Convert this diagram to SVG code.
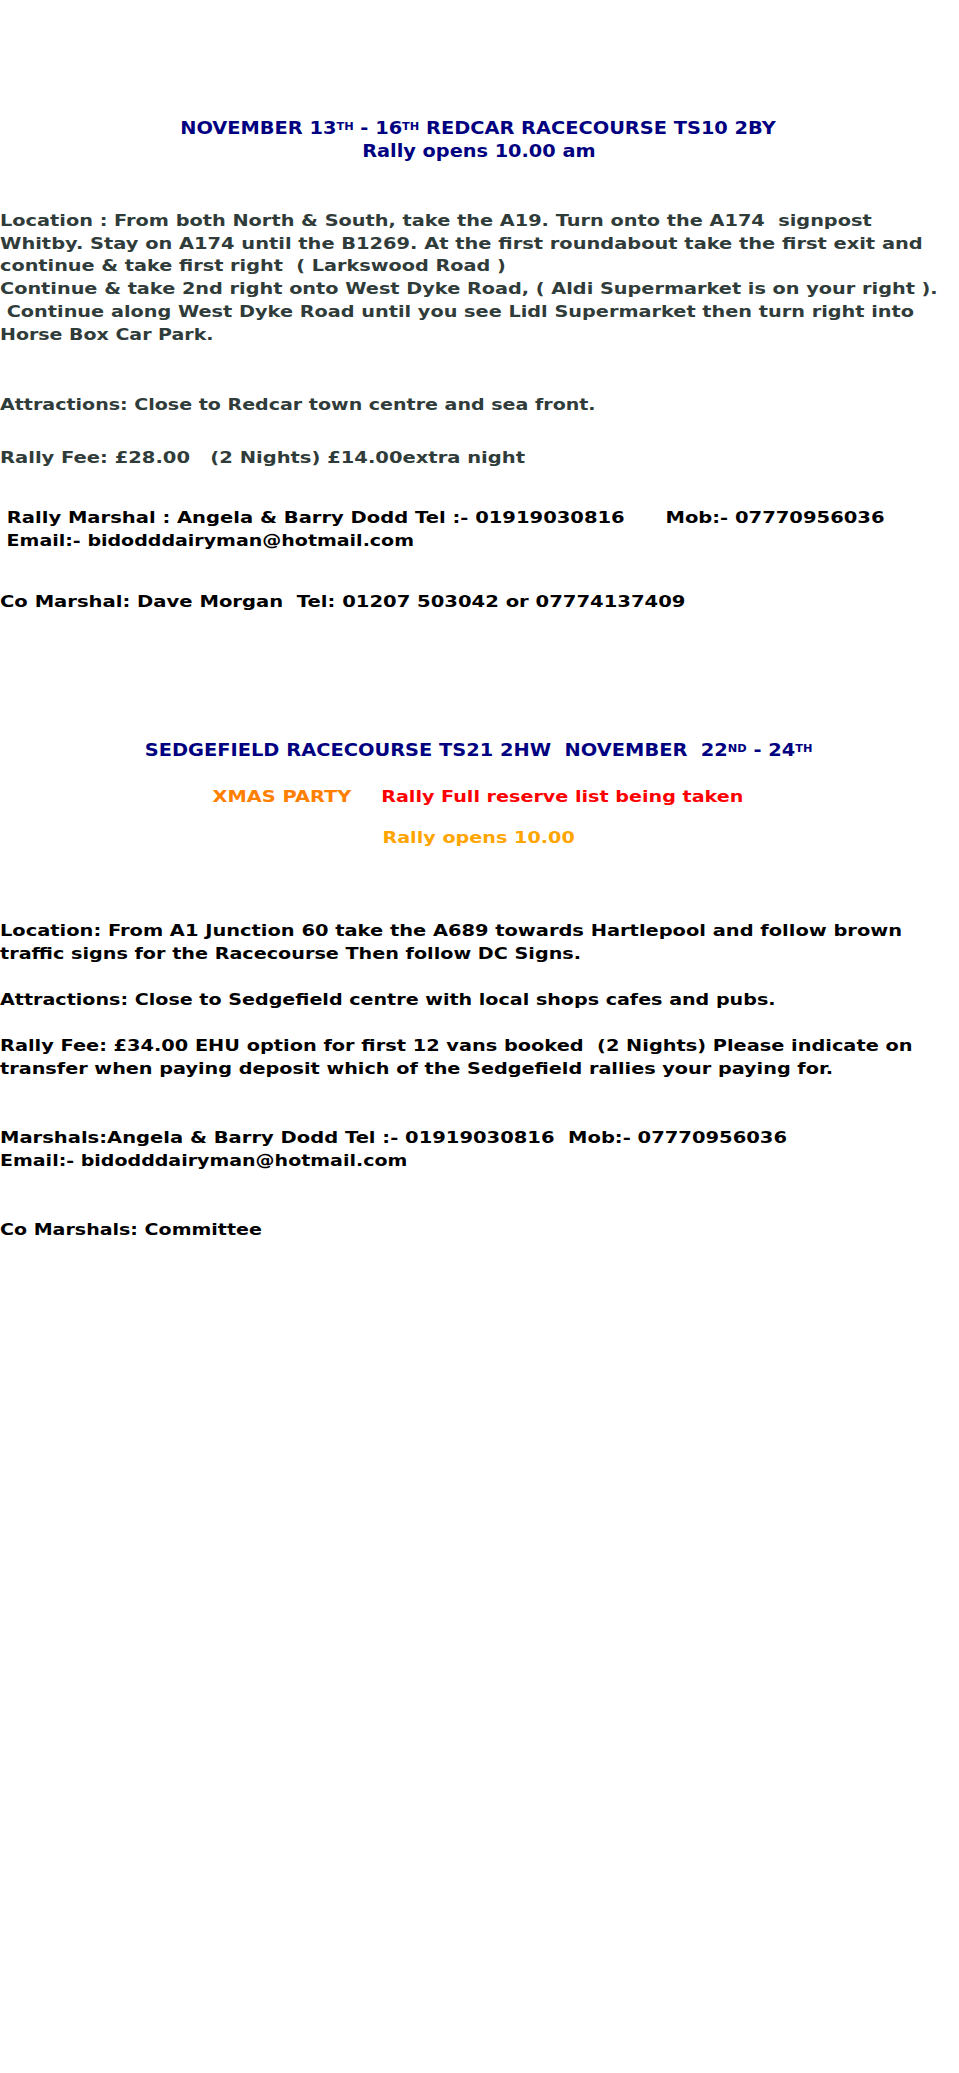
<svg xmlns="http://www.w3.org/2000/svg" width="959" height="2073" viewBox="0 0 959 2073">
<style>
text{font-family:"DejaVu Sans","Verdana",sans-serif;font-weight:bold;font-size:16.5px;white-space:pre}
.t{fill:#000080;font-size:18px}
.g{fill:#303c3a}
.k{fill:#000000}
.sup{font-size:10.5px}
</style>
<rect width="959" height="2073" fill="#ffffff"/>
<g id="redcar-title">
<text class="t" x="180.2" y="134" textLength="595.6" lengthAdjust="spacingAndGlyphs" xml:space="preserve">NOVEMBER 13<tspan class="sup" dy="-4.5">TH</tspan><tspan dy="4.5"> - 16</tspan><tspan class="sup" dy="-4.5">TH</tspan><tspan dy="4.5"> REDCAR RACECOURSE TS10 2BY</tspan></text>
<text class="t" x="362.2" y="156.7" textLength="233.4" lengthAdjust="spacingAndGlyphs">Rally opens 10.00 am</text>
</g>
<g id="redcar-location">
<text class="g" x="0" y="226" textLength="871.7" lengthAdjust="spacingAndGlyphs" xml:space="preserve">Location : From both North &amp; South, take the A19. Turn onto the A174  signpost</text>
<text class="g" x="0" y="248.7" textLength="922.7" lengthAdjust="spacingAndGlyphs">Whitby. Stay on A174 until the B1269. At the first roundabout take the first exit and</text>
<text class="g" x="0" y="271.3" textLength="505.8" lengthAdjust="spacingAndGlyphs" xml:space="preserve">continue &amp; take first right  ( Larkswood Road )</text>
<text class="g" x="0" y="294.3" textLength="937.7" lengthAdjust="spacingAndGlyphs">Continue &amp; take 2nd right onto West Dyke Road, ( Aldi Supermarket is on your right ).</text>
<text class="g" x="0" y="317.3" textLength="914" lengthAdjust="spacingAndGlyphs" xml:space="preserve"> Continue along West Dyke Road until you see Lidl Supermarket then turn right into</text>
<text class="g" x="0" y="340" textLength="213.5" lengthAdjust="spacingAndGlyphs">Horse Box Car Park.</text>
</g>
<g id="redcar-attractions">
<text class="g" x="0" y="410" textLength="595.6" lengthAdjust="spacingAndGlyphs">Attractions: Close to Redcar town centre and sea front.</text>
</g>
<g id="redcar-fee">
<text class="g" x="0" y="463.3" textLength="525" lengthAdjust="spacingAndGlyphs" xml:space="preserve">Rally Fee: £28.00   (2 Nights) £14.00extra night</text>
</g>
<g id="redcar-marshal">
<text class="k" x="0" y="523.3" textLength="884.5" lengthAdjust="spacingAndGlyphs" xml:space="preserve"> Rally Marshal : Angela &amp; Barry Dodd Tel :- 01919030816      Mob:- 07770956036</text>
<text class="k" x="0" y="545.7" textLength="414" lengthAdjust="spacingAndGlyphs" xml:space="preserve"> Email:- bidodddairyman@hotmail.com</text>
</g>
<g id="redcar-comarshal">
<text class="k" x="0" y="606.7" textLength="685.4" lengthAdjust="spacingAndGlyphs" xml:space="preserve">Co Marshal: Dave Morgan  Tel: 01207 503042 or 07774137409</text>
</g>
<g id="sedgefield-title">
<text class="t" x="144.8" y="756" textLength="667.7" lengthAdjust="spacingAndGlyphs" xml:space="preserve">SEDGEFIELD RACECOURSE TS21 2HW  NOVEMBER  22<tspan class="sup" dy="-4.5">ND</tspan><tspan dy="4.5"> - 24</tspan><tspan class="sup" dy="-4.5">TH</tspan></text>
</g>
<g id="sedgefield-xmas">
<text x="212.6" y="802.3" fill="#ff8000" font-size="18" textLength="138.7" lengthAdjust="spacingAndGlyphs">XMAS PARTY</text>
<text x="381.2" y="802.3" fill="#ff0000" font-size="18" textLength="362.2" lengthAdjust="spacingAndGlyphs">Rally Full reserve list being taken</text>
</g>
<g id="sedgefield-opens">
<text x="382.4" y="843.3" fill="#ffa500" font-size="18" textLength="192.4" lengthAdjust="spacingAndGlyphs">Rally opens 10.00</text>
</g>
<g id="sedgefield-location">
<text class="k" x="0" y="936" textLength="902" lengthAdjust="spacingAndGlyphs">Location: From A1 Junction 60 take the A689 towards Hartlepool and follow brown</text>
<text class="k" x="0" y="959.3" textLength="581" lengthAdjust="spacingAndGlyphs">traffic signs for the Racecourse Then follow DC Signs.</text>
</g>
<g id="sedgefield-attractions">
<text class="k" x="0" y="1005" textLength="775.5" lengthAdjust="spacingAndGlyphs">Attractions: Close to Sedgefield centre with local shops cafes and pubs.</text>
</g>
<g id="sedgefield-fee">
<text class="k" x="0" y="1050.7" textLength="912.5" lengthAdjust="spacingAndGlyphs" xml:space="preserve">Rally Fee: £34.00 EHU option for first 12 vans booked  (2 Nights) Please indicate on</text>
<text class="k" x="0" y="1074" textLength="833" lengthAdjust="spacingAndGlyphs">transfer when paying deposit which of the Sedgefield rallies your paying for.</text>
</g>
<g id="sedgefield-marshals">
<text class="k" x="0" y="1142.7" textLength="787" lengthAdjust="spacingAndGlyphs" xml:space="preserve">Marshals:Angela &amp; Barry Dodd Tel :- 01919030816  Mob:- 07770956036</text>
<text class="k" x="0" y="1166" textLength="407.3" lengthAdjust="spacingAndGlyphs">Email:- bidodddairyman@hotmail.com</text>
</g>
<g id="sedgefield-comarshals">
<text class="k" x="0" y="1235" textLength="261.8" lengthAdjust="spacingAndGlyphs">Co Marshals: Committee</text>
</g>
</svg>
